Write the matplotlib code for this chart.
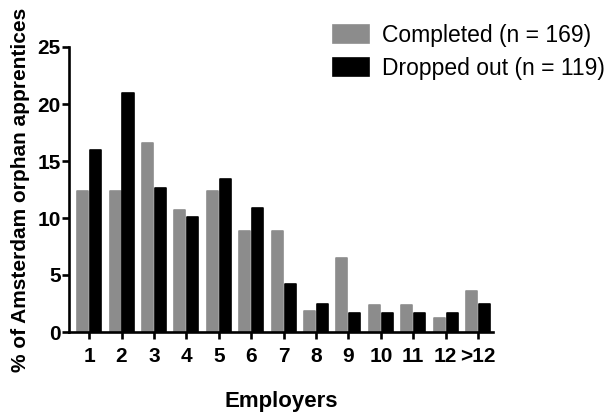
import matplotlib
matplotlib.use("Agg")
import matplotlib.pyplot as plt
import numpy as np

plt.rcParams['font.family'] = ['Liberation Sans', 'DejaVu Sans']

# number of employers per apprentice, share of each group (%)
employers = ['1', '2', '3', '4', '5', '6', '7', '8', '9', '10', '11', '12', '>12']
completed = [12.4, 12.4, 16.6, 10.7, 12.4, 8.9, 8.9, 1.8, 6.5, 2.4, 2.4, 1.2, 3.6]
dropped = [16.0, 21.0, 12.6, 10.1, 13.4, 10.9, 4.2, 2.5, 1.7, 1.7, 1.7, 1.7, 2.5]

labels = ['Completed (n = 169)', 'Dropped out (n = 119)']
colors = ['#8c8c8c', '#000000']

fig = plt.figure(figsize=(6.09, 4.16), dpi=100)
ax = fig.add_axes([69/609, 1 - 332/416, (493 - 69)/609, (332 - 47)/416])

x = np.arange(len(employers))
w = 0.34
for off, vals, c, lab in [(-0.2, completed, colors[0], labels[0]),
                          (0.2, dropped, colors[1], labels[1])]:
    ax.bar(x + off, vals, width=w, color=c, edgecolor=c, linewidth=1.2,
           joinstyle='round', label=lab)

ax.set_xlim(-0.62, 12.46)
ax.set_ylim(0, 25)
ax.set_xticks(x)
ax.set_xticklabels(employers)
ax.set_yticks([0, 5, 10, 15, 20, 25])

for s in ['top', 'right']:
    ax.spines[s].set_visible(False)
for s in ['left', 'bottom']:
    ax.spines[s].set_linewidth(1.9)
ax.tick_params(width=1.9, length=5, direction='out', labelsize=15)
ax.tick_params(axis='x', pad=6)
ax.tick_params(axis='y', pad=1)
for t in ax.get_xticklabels() + ax.get_yticklabels():
    t.set_fontweight('bold')

ax.set_xlabel('Employers', fontsize=16, fontweight='bold', labelpad=18)
ax.set_ylabel('% of Amsterdam orphan apprentices', fontsize=15,
              fontweight='bold', labelpad=5)

fig.legend(loc='upper left', bbox_to_anchor=(333/609, 1 - 24/416),
           frameon=False, fontsize=16.5, borderpad=0, handlelength=1.55,
           handleheight=0.85, handletextpad=0.6, labelspacing=0.42,
           borderaxespad=0)

fig.savefig('out.png', dpi=100)
